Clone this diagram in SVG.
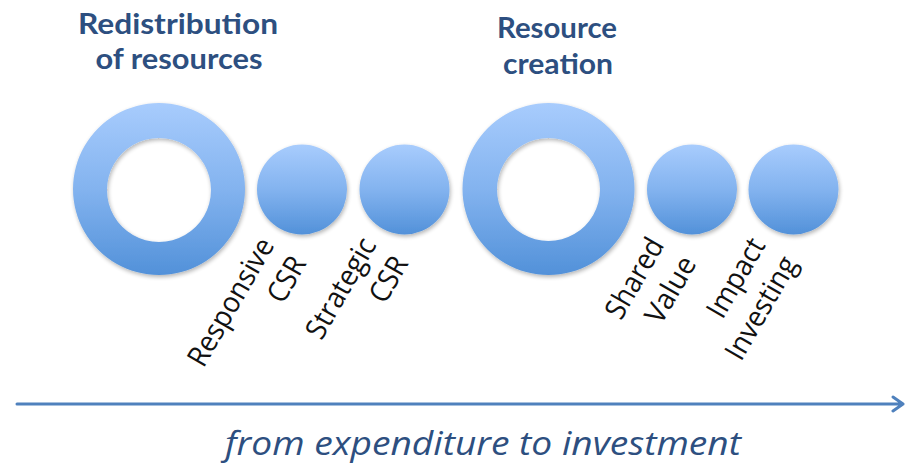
<svg xmlns="http://www.w3.org/2000/svg" width="911" height="469" viewBox="0 0 911 469">
  <style>
    .title { font-family: Lato, "Open Sans", "Liberation Sans", sans-serif; font-weight: bold; font-size: 29px; fill: #2d4f80; text-anchor: middle; }
    .label { font-family: "Open Sans", "Liberation Sans", sans-serif; font-size: 29px; fill: #111; text-anchor: end; }
    .axis-text { font-family: "Open Sans", "Liberation Sans", sans-serif; font-style: italic; font-size: 33px; fill: #2d4f80; }
    .ball { fill: url(#blueFill); filter: url(#softShadow); }
    .axis { stroke: #4f81bd; stroke-width: 3; fill: none; stroke-linecap: round; stroke-linejoin: round; }
  </style>
  <defs>
    <linearGradient id="blueFill" x1="0" y1="0" x2="0" y2="1">
      <stop offset="0" stop-color="#a8ccfd"/>
      <stop offset="0.5" stop-color="#83b3ef"/>
      <stop offset="1" stop-color="#5291d9"/>
    </linearGradient>
    <filter id="softShadow" x="-20%" y="-20%" width="140%" height="140%">
      <feGaussianBlur in="SourceAlpha" stdDeviation="2"/>
      <feOffset dx="1" dy="2" result="blur"/>
      <feComponentTransfer><feFuncA type="linear" slope="0.3"/></feComponentTransfer>
      <feMerge><feMergeNode/><feMergeNode in="SourceGraphic"/></feMerge>
    </filter>
  </defs>

  <!-- headings -->
  <g id="heading-redistribution">
    <text class="title" x="178" y="34" textLength="200" lengthAdjust="spacingAndGlyphs">Redistribution</text>
    <text class="title" x="179" y="69" textLength="167" lengthAdjust="spacingAndGlyphs">of resources</text>
  </g>
  <g id="heading-creation">
    <text class="title" x="557" y="38" textLength="120" lengthAdjust="spacingAndGlyphs">Resource</text>
    <text class="title" x="558" y="74" textLength="110" lengthAdjust="spacingAndGlyphs">creation</text>
  </g>

  <!-- rings -->
  <g id="ring-redistribution">
    <path class="ball" fill-rule="evenodd" d="M159,103 a86,86 0 1,0 0.01,0 Z M159,138 a52,52 0 1,1 -0.01,0 Z"/>
  </g>
  <g id="ring-creation">
    <path class="ball" fill-rule="evenodd" d="M548.5,103 a86,86 0 1,0 0.01,0 Z M548.5,138 a51.5,51.5 0 1,1 -0.01,0 Z"/>
  </g>

  <!-- small circles with slanted labels -->
  <g id="responsive-csr">
    <circle class="ball" cx="302" cy="189.5" r="45"/>
    <g transform="translate(275,245) rotate(-60)">
      <text class="label" x="0" y="0" textLength="143" lengthAdjust="spacingAndGlyphs">Responsive</text>
      <text class="label" x="0" y="37" textLength="48" lengthAdjust="spacingAndGlyphs">CSR</text>
    </g>
  </g>
  <g id="strategic-csr">
    <circle class="ball" cx="404.5" cy="189.5" r="45"/>
    <g transform="translate(377,245) rotate(-60)">
      <text class="label" x="0" y="0" textLength="111" lengthAdjust="spacingAndGlyphs">Strategic</text>
      <text class="label" x="0" y="37" textLength="48" lengthAdjust="spacingAndGlyphs">CSR</text>
    </g>
  </g>
  <g id="shared-value">
    <circle class="ball" cx="692" cy="189.5" r="45"/>
    <g transform="translate(665,245) rotate(-60)">
      <text class="label" x="0" y="0" textLength="88" lengthAdjust="spacingAndGlyphs">Shared</text>
      <text class="label" x="0" y="37" textLength="72" lengthAdjust="spacingAndGlyphs">Value</text>
    </g>
  </g>
  <g id="impact-investing">
    <circle class="ball" cx="793.5" cy="189.5" r="45"/>
    <g transform="translate(766,245) rotate(-60)">
      <text class="label" x="0" y="0" textLength="87" lengthAdjust="spacingAndGlyphs">Impact</text>
      <text class="label" x="0" y="37" textLength="114" lengthAdjust="spacingAndGlyphs">Investing</text>
    </g>
  </g>

  <!-- axis -->
  <g id="connectors">
    <path class="axis" d="M17,404 H903 M893,397 L903,404 L893,411"/>
  </g>
  <g id="axis-label">
    <text class="axis-text" x="225" y="455" textLength="516" lengthAdjust="spacingAndGlyphs">from expenditure to investment</text>
  </g>
</svg>
